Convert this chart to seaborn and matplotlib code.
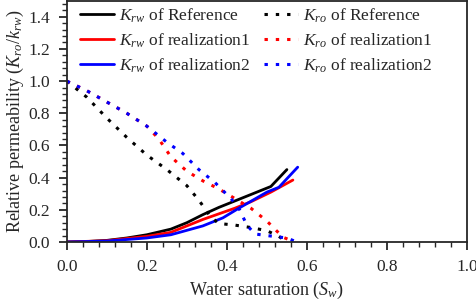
import numpy as np
import pandas as pd
import seaborn as sns
import matplotlib.pyplot as plt
from matplotlib.ticker import MultipleLocator

# Relative permeability curves
sw_rw_ref = [0.0, 0.05, 0.1, 0.15, 0.2, 0.26, 0.3, 0.34, 0.38, 0.42, 0.46, 0.51, 0.55]
krw_ref = [0.0, 0.003, 0.01, 0.025, 0.045, 0.08, 0.12, 0.17, 0.215, 0.255, 0.295, 0.345, 0.45]
sw_ro_ref = [0.0, 0.05, 0.1, 0.15, 0.2, 0.25, 0.3, 0.33, 0.36, 0.38, 0.42, 0.46, 0.5, 0.53, 0.55]
kro_ref = [1.0, 0.90, 0.77, 0.65, 0.54, 0.45, 0.35, 0.26, 0.155, 0.115, 0.105, 0.09, 0.07, 0.035, 0.0]

sw_rw_r1 = [0.0, 0.1, 0.2, 0.26, 0.34, 0.42, 0.46, 0.51, 0.565]
krw_r1 = [0.0, 0.008, 0.035, 0.06, 0.14, 0.21, 0.25, 0.31, 0.385]
sw_ro_r1 = [0.0, 0.05, 0.1, 0.15, 0.2, 0.23, 0.26, 0.3, 0.34, 0.38, 0.42, 0.46, 0.5, 0.54, 0.57]
kro_r1 = [1.0, 0.94, 0.87, 0.80, 0.72, 0.64, 0.53, 0.44, 0.38, 0.33, 0.27, 0.21, 0.13, 0.03, 0.0]

sw_rw_r2 = [0.0, 0.1, 0.2, 0.26, 0.34, 0.39, 0.43, 0.465, 0.5, 0.53, 0.577]
krw_r2 = [0.0, 0.006, 0.025, 0.045, 0.10, 0.15, 0.21, 0.26, 0.31, 0.34, 0.465]
sw_ro_r2 = [0.0, 0.05, 0.1, 0.15, 0.2, 0.25, 0.29, 0.33, 0.37, 0.41, 0.43, 0.45, 0.47, 0.5, 0.55, 0.575]
kro_r2 = [1.0, 0.94, 0.87, 0.80, 0.72, 0.62, 0.55, 0.45, 0.37, 0.27, 0.21, 0.105, 0.05, 0.04, 0.025, 0.0]

names = ["Reference", "realization1", "realization2"]
colors = ["black", "red", "blue"]

sns.set_style("ticks")
plt.rcParams["font.family"] = ["Liberation Serif", "DejaVu Serif"]
plt.rcParams["mathtext.fontset"] = "custom"
plt.rcParams["mathtext.rm"] = "Liberation Serif"
plt.rcParams["mathtext.it"] = "Liberation Serif:italic"

fig = plt.figure(figsize=(4.77, 3.01), dpi=100)
ax = fig.add_axes([0.14, 0.196, 0.839, 0.802])

rw = [(sw_rw_ref, krw_ref), (sw_rw_r1, krw_r1), (sw_rw_r2, krw_r2)]
ro = [(sw_ro_ref, kro_ref), (sw_ro_r1, kro_r1), (sw_ro_r2, kro_r2)]

for (x, y), name, c in zip(rw, names, colors):
    sns.lineplot(x=x, y=y, ax=ax, color=c, lw=2, estimator=None, sort=False,
                 label=r"$K_{rw}$ of " + name)
for (x, y), name, c in zip(ro, names, colors):
    sns.lineplot(x=x, y=y, ax=ax, color=c, lw=2.2, estimator=None, sort=False,
                 dashes=False, label=r"$K_{ro}$ of " + name)
    ax.lines[-1].set_dashes((1.1, 2.6))

ax.set_xlim(0, 1.0)
ax.set_ylim(0, 1.5)
ax.xaxis.set_major_locator(MultipleLocator(0.2))
ax.xaxis.set_minor_locator(MultipleLocator(0.04))
ax.yaxis.set_major_locator(MultipleLocator(0.2))
ax.yaxis.set_minor_locator(MultipleLocator(0.04))
ax.tick_params(which="major", length=6, width=1.3, labelsize=12.5,
               direction="out", pad=6)
ax.tick_params(which="minor", length=3.5, width=1.0, direction="out")
for s in ax.spines.values():
    s.set_linewidth(1.3)

ax.set_xlabel(r"Water saturation ($S_w$)", fontsize=13, labelpad=4)
ax.set_ylabel(r"Relative permeability ($K_{ro}/k_{rw}$)", fontsize=13, labelpad=2)

handles, labels = ax.get_legend_handles_labels()
ax.legend(handles, labels, ncol=2, loc="upper left", frameon=False, fontsize=12.5,
          handlelength=1.95, handletextpad=0.3, columnspacing=0.8,
          labelspacing=0.38, borderaxespad=0.0, bbox_to_anchor=(0.015, 1.005))

fig.savefig("out.png", dpi=100)
